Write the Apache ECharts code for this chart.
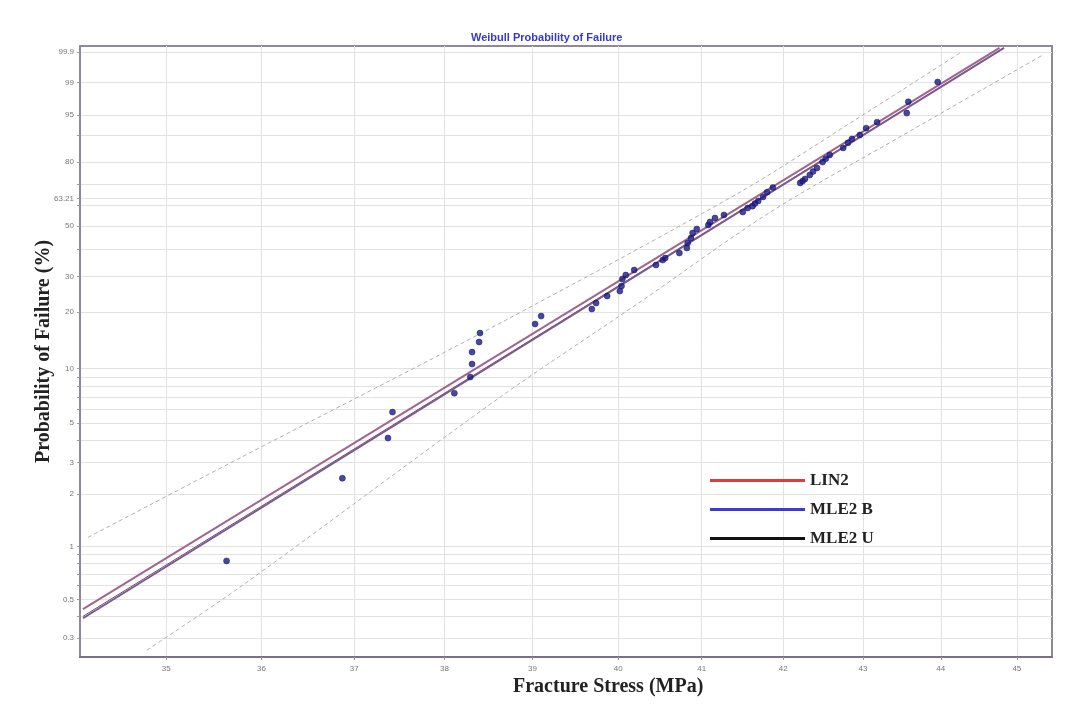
<!DOCTYPE html>
<html><head><meta charset="utf-8">
<script src="https://cdn.jsdelivr.net/npm/echarts@6/dist/echarts.min.js"></script>
<style>html,body{margin:0;padding:0;background:#fff}#c{width:1076px;height:704px}</style>
</head><body><div id="c"></div>
<script>
// Tick labels
const stressTicks = [35, 36, 37, 38, 39, 40, 41, 42, 43, 44, 45];
const probLabels = [0.3, 0.5, 1, 2, 3, 5, 10, 20, 30, 50, 63.21, 80, 95, 99, 99.9];
const probLabelText = ['0.3', '0.5', '1', '2', '3', '5', '10', '20', '30', '50', '63.21', '80', '95', '99', '99.9'];
const probMinorGrid = [0.4, 0.6, 0.7, 0.8, 0.9, 4, 6, 7, 8, 9, 40, 60, 70, 90];

// Observed failures: fracture stress (MPa) and probability of failure (%)
const failStress = [35.63, 36.87, 37.37, 37.42, 38.11, 38.29, 38.31, 38.31, 38.39, 38.40,
  39.03, 39.10, 39.69, 39.74, 39.87, 40.02, 40.04, 40.05, 40.09, 40.19,
  40.45, 40.53, 40.56, 40.73, 40.82, 40.83, 40.87, 40.89, 40.94, 41.08,
  41.10, 41.16, 41.27, 41.50, 41.56, 41.62, 41.65, 41.69, 41.75, 41.80,
  41.87, 42.21, 42.24, 42.27, 42.33, 42.37, 42.42, 42.49, 42.53, 42.58,
  42.75, 42.81, 42.86, 42.96, 43.04, 43.18, 43.56, 43.58, 43.96];
const failProb = [0.83, 2.45, 4.13, 5.77, 7.35, 9.01, 10.60, 12.30, 13.92, 15.53,
  17.31, 19.04, 20.68, 22.18, 24.05, 25.46, 26.95, 29.14, 30.45, 32.15,
  33.92, 35.76, 36.5, 38.46, 40.46, 42.54, 44.67, 46.87, 48.66, 50.48,
  51.87, 53.74, 55.16, 56.59, 58.51, 59.4, 60.7, 61.9, 63.9, 66.2,
  68.4, 70.6, 71.5, 72.5, 74.35, 75.9, 77.5, 80.1, 81.5, 83.0,
  85.7, 87.5, 88.8, 90.05, 92.0, 93.5, 95.4, 97.2, 99.04];

// Fitted lines (end points)
const lin2Stress = [34.15, 44.77];
const lin2Prob = [0.44, 99.931];
const mle2bStress = [34.15, 44.83];
const mle2bProb = [0.39, 99.931];
const mle2uStress = [34.15, 44.83];
const mle2uProb = [0.40, 99.931];

// Confidence bounds
const upperStress = [34.20, 35.77, 38.63, 41.47, 42.84, 44.25];
const upperProb = [1.13, 3.19, 17.52, 66.28, 93.31, 99.89];
const lowerStress = [34.80, 35.77, 38.63, 40.26, 41.84, 43.47, 45.35];
const lowerProb = [0.256, 0.587, 6.99, 22.45, 56.59, 89.43, 99.87];

// Weibull paper transforms
const tx = s => Math.log(s);
const ty = p => Math.log(-Math.log(1 - p / 100));
const pairs = (xs, ps) => xs.map((s, i) => [tx(s), ty(ps[i])]);

const labelVals = probLabels.map(ty);
const tickVals = probLabels.concat(probMinorGrid).map(ty);

const serif = '"Liberation Serif", "Times New Roman", serif';
const sans = '"Liberation Sans", Arial, sans-serif';

const chart = echarts.init(document.getElementById('c'), null, {renderer: 'canvas'});
chart.setOption({
  animation: false,
  backgroundColor: '#ffffff',
  title: {
    text: 'Weibull Probability of Failure',
    left: 466, top: 27,
    textStyle: {color: '#3838d0', fontSize: 11, fontWeight: 'bold', fontFamily: sans}
  },
  grid: {left: 80, right: 24, top: 46, bottom: 47, show: true, borderColor: '#8f8898', borderWidth: 2, backgroundColor: '#fff'},
  legend: {
    orient: 'vertical', left: 705, top: 467, itemWidth: 95, itemHeight: 3, itemGap: 12,
    icon: 'rect',
    textStyle: {fontFamily: serif, fontWeight: 'bold', fontSize: 17, color: '#222', padding: [0, 0, 0, 0]},
    data: [
      {name: 'LIN2', itemStyle: {color: '#e03a3a'}},
      {name: 'MLE2 B', itemStyle: {color: '#3a3ad6'}},
      {name: 'MLE2 U', itemStyle: {color: '#111111'}}
    ]
  },
  xAxis: {
    type: 'value', min: tx(34.12), max: tx(45.47),
    axisLine: {show: true, onZero: false, lineStyle: {color: '#7d6f8c', width: 2}},
    axisTick: {show: true, length: 3, customValues: stressTicks.map(tx), lineStyle: {color: '#999'}},
    axisLabel: {customValues: stressTicks.map(tx), formatter: v => String(Math.round(Math.exp(v))),
      fontSize: 8, color: '#777', fontFamily: sans, margin: 8},
    splitLine: {show: true, lineStyle: {color: '#e2e2e2', width: 1}}
  },
  yAxis: {
    type: 'value', min: ty(0.234), max: ty(99.943),
    name: 'Probability of Failure (%)', nameLocation: 'middle', nameGap: 26, nameRotate: 90,
    nameMoveOverlap: false,
    nameTextStyle: {fontFamily: serif, fontWeight: 'bold', fontSize: 20, color: '#222'},
    axisLine: {show: true, onZero: false, lineStyle: {color: '#8f8898', width: 2}},
    axisTick: {show: true, length: 3, customValues: tickVals, lineStyle: {color: '#999'}},
    axisLabel: {customValues: labelVals,
      formatter: v => { let bi = 0, bd = 1e9; labelVals.forEach((l, i) => { const d = Math.abs(l - v); if (d < bd) { bd = d; bi = i; } }); return probLabelText[bi]; },
      fontSize: 8, color: '#777', fontFamily: sans, margin: 6},
    splitLine: {show: true, lineStyle: {color: '#e2e2e2', width: 1}}
  },
  graphic: [
    {type: 'text', left: 513, top: 677, style: {text: 'Fracture Stress (MPa)', font: 'bold 20px ' + serif, fill: '#222'}}
  ],
  series: [
    {name: 'Upper bound', type: 'line', data: pairs(upperStress, upperProb), showSymbol: false, symbol: 'none', smooth: 0.3,
      lineStyle: {color: '#b0b0b0', width: 1, type: [4, 3]}, z: 2},
    {name: 'Lower bound', type: 'line', data: pairs(lowerStress, lowerProb), showSymbol: false, symbol: 'none', smooth: 0.3,
      lineStyle: {color: '#b0b0b0', width: 1, type: [4, 3]}, z: 2},
    {name: 'MLE2 U', type: 'line', data: pairs(mle2uStress, mle2uProb), symbol: 'none',
      lineStyle: {color: '#6a5070', width: 1}, z: 3},
    {name: 'MLE2 B', type: 'line', data: pairs(mle2bStress, mle2bProb), symbol: 'none',
      lineStyle: {color: '#7c5a8e', width: 2}, z: 4},
    {name: 'LIN2', type: 'line', data: pairs(lin2Stress, lin2Prob), symbol: 'none',
      lineStyle: {color: '#a0668f', width: 2}, z: 4},
    {name: 'Failures', type: 'scatter', data: pairs(failStress, failProb), symbol: 'circle', symbolSize: 6,
      itemStyle: {color: '#1a1a8c', borderColor: '#101050', borderWidth: 0.6}, z: 5}
  ]
});
</script></body></html>
